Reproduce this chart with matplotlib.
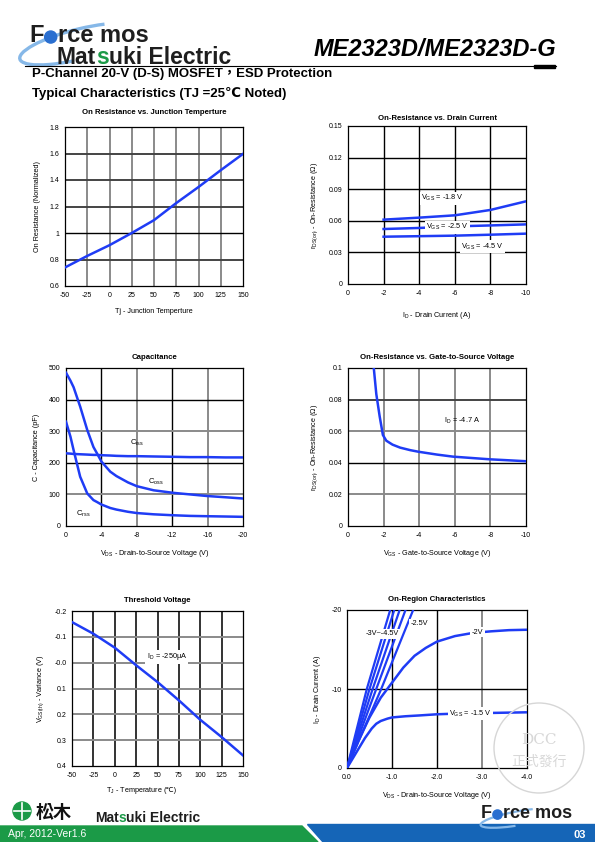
import matplotlib
matplotlib.use('Agg')
import matplotlib.pyplot as plt
from matplotlib.patches import Circle, Polygon, Rectangle, Arc

plt.rcParams['font.family'] = ['Liberation Sans', 'DejaVu Sans', 'Noto Sans CJK TC']
plt.rcParams['mathtext.default'] = 'regular'
plt.rcParams['axes.unicode_minus'] = False

BLUE = '#1f3cf5'

# ---- data ----
# On resistance vs junction temperature
tj = [-50, -25, 0, 25, 50, 75, 100, 125, 150]
ron_norm = [0.74, 0.827, 0.908, 1.0, 1.097, 1.226, 1.347, 1.474, 1.597]

# On resistance vs drain current
id_a = [-2, -4, -6, -8, -10]
ron_18 = [0.0611, 0.063, 0.0652, 0.0703, 0.0785]
ron_25 = [0.0522, 0.0532, 0.0547, 0.0556, 0.0566]
ron_45 = [0.0449, 0.0454, 0.0459, 0.0468, 0.0478]

# Capacitance
vds_c = [0, -0.5, -0.86, -1.6, -2.4, -3.1, -3.5, -4, -5, -5.7, -7, -8, -9.9, -12.1, -14, -15.9, -18, -20]
c_iss = [230, 229, 228, 227, 226, 225, 225, 224, 223, 222, 221, 221, 220, 219, 218, 218, 217, 217]
c_oss = [485, 460, 439, 378, 304, 250, 230, 204, 172, 158, 138, 126, 113, 105, 100, 95, 91, 87]
c_rss = [330, 283, 240, 156, 103, 82, 76, 68, 57, 52, 45, 41, 37, 34, 32, 31, 30, 29]

# On resistance vs gate-to-source voltage
vgs = [-1.44, -1.59, -1.78, -1.96, -2.15, -2.5, -2.93, -3.5, -3.96, -5.0, -5.9, -7.0, -7.98, -9.0, -10]
ron_vgs = [0.101, 0.0835, 0.0693, 0.0576, 0.054, 0.0515, 0.0496, 0.048, 0.047, 0.0452, 0.0439, 0.043, 0.0422, 0.0416, 0.041]

# Threshold voltage variance
tj_th = [-50, -25, 0, 25, 50, 75, 100, 125, 150]
vth_var = [-0.157, -0.112, -0.058, 0.010, 0.075, 0.146, 0.221, 0.288, 0.359]

# On-region characteristics
vds_15 = [0, -0.2, -0.4, -0.55, -0.65, -0.75, -0.9, -1.0, -1.3, -1.6, -2.0, -2.5, -3.0, -3.5, -4.0]
id_15 = [0, -1.9, -3.8, -5.0, -5.6, -5.95, -6.25, -6.4, -6.55, -6.65, -6.8, -6.9, -6.95, -7.0, -7.05]
vds_20 = [0, -0.25, -0.5, -0.75, -1.0, -1.25, -1.5, -1.75, -2.0, -2.4, -2.8, -3.2, -3.6, -4.0]
id_20 = [0, -3.4, -6.4, -8.9, -10.8, -12.7, -14.2, -15.2, -16.0, -16.7, -17.1, -17.3, -17.45, -17.5]
steep_vgs = ['-4.5', '-4', '-3.5', '-3', '-2.5']
steep_v10 = [-0.44, -0.50, -0.57, -0.65, -0.76]
steep_v20 = [-0.96, -1.05, -1.17, -1.30, -1.47]

W, H = 595, 842
fig = plt.figure(figsize=(W / 100, H / 100), dpi=100)


def box(l, t, r, b):
    return [l / W, 1 - b / H, (r - l) / W, (b - t) / H]


def style(ax, title, xl, yl, vgrid, hgrid, tpad=6.5):
    ax.set_title(title, fontsize=5.6, fontweight='bold', pad=tpad)
    if xl:
        ax.set_xlabel(xl, fontsize=5.2, labelpad=7)
    ax.set_ylabel(yl, fontsize=5.2, labelpad=6)
    ax.tick_params(length=0, labelsize=5, pad=4)
    for v, c in vgrid:
        ax.axvline(v, color=c, lw=1.0 if c == 'black' else 1.4, zorder=1)
    for v, c in hgrid:
        ax.axhline(v, color=c, lw=1.0 if c == 'black' else 1.4, zorder=1)
    for s in ax.spines.values():
        s.set_linewidth(0.9)


G = '#8a8a8a'
K = 'black'
WB = dict(facecolor='white', edgecolor='none', pad=1)

# 1: on resistance vs junction temp
ax1 = fig.add_axes(box(65, 127, 243, 286))
ax1.plot(tj, ron_norm, color=BLUE, lw=1.8, zorder=3)
ax1.set_xlim(-50, 150)
ax1.set_ylim(0.6, 1.8)
ax1.set_xticks(range(-50, 151, 25))
ax1.set_yticks([0.6, 0.8, 1.0, 1.2, 1.4, 1.6, 1.8])
ax1.set_yticklabels(['0.6', '0.8', '1', '1.2', '1.4', '1.6', '1.8'])
style(ax1, 'On Resistance vs. Junction Temperture', 'Tj - Junction Temperture',
      'On Resistance (Normalized)',
      [(v, G) for v in range(-25, 150, 25)],
      [(0.8, '#444'), (1.0, K), (1.2, '#444'), (1.4, '#444'), (1.6, '#444')], tpad=9.5)

# 2: on resistance vs drain current
ax2 = fig.add_axes(box(348, 126, 526, 284))
ax2.plot(id_a, ron_18, color=BLUE, lw=1.8, zorder=3)
ax2.plot(id_a, ron_25, color=BLUE, lw=1.8, zorder=3)
ax2.plot(id_a, ron_45, color=BLUE, lw=1.8, zorder=3)
ax2.set_xlim(0, -10)
ax2.set_ylim(0, 0.15)
ax2.set_xticks([0, -2, -4, -6, -8, -10])
ax2.set_xticklabels(['0', '-2', '-4', '-6', '-8', '-10'])
ax2.set_yticks([0, 0.03, 0.06, 0.09, 0.12, 0.15])
ax2.set_yticklabels(['0', '0.03', '0.06', '0.09', '0.12', '0.15'])
style(ax2, 'On-Resistance vs. Drain Current', '$I_D$ - Drain Current (A)',
      '$r_{DS(on)}$ - On-Resistance (Ω)',
      [(v, K) for v in [-2, -4, -6, -8]],
      [(v, K) for v in [0.03, 0.06, 0.09, 0.12]], tpad=4)
ax2.xaxis.labelpad = 10
ax2.text(-5.3, 0.0813, '$V_{GS}$ = -1.8 V', fontsize=5.3, ha='center', va='center', bbox=WB, zorder=4)
ax2.text(-5.6, 0.0538, '$V_{GS}$ = -2.5 V', fontsize=5.3, ha='center', va='center', bbox=WB, zorder=4)
ax2.text(-7.55, 0.0354, '$V_{GS}$ = -4.5 V', fontsize=5.3, ha='center', va='center', bbox=WB, zorder=4)

# 3: capacitance
ax3 = fig.add_axes(box(66, 368, 243, 526))
ax3.plot(vds_c, c_iss, color=BLUE, lw=1.8, zorder=3)
ax3.plot(vds_c, c_oss, color=BLUE, lw=1.8, zorder=3)
ax3.plot(vds_c, c_rss, color=BLUE, lw=1.8, zorder=3)
ax3.set_xlim(0, -20)
ax3.set_ylim(0, 500)
ax3.set_xticks([0, -4, -8, -12, -16, -20])
ax3.set_xticklabels(['0', '-4', '-8', '-12', '-16', '-20'])
ax3.set_yticks([0, 100, 200, 300, 400, 500])
style(ax3, 'Capacitance', '$V_{DS}$ - Drain-to-Source Voltage (V)', 'C - Capacitance (pF)',
      [(-4, K), (-8, G), (-12, K), (-16, G)],
      [(100, G), (200, K), (300, G), (400, K)])
ax3.text(-8.0, 262, '$C_{iss}$', fontsize=5.5, ha='center', va='center')
ax3.text(-10.2, 140, '$C_{oss}$', fontsize=5.5, ha='center', va='center')
ax3.text(-2.0, 39, '$C_{rss}$', fontsize=5.5, ha='center', va='center')

# 4: on resistance vs gate-source voltage
ax4 = fig.add_axes(box(348, 368, 526, 526))
ax4.plot(vgs, ron_vgs, color=BLUE, lw=1.8, zorder=3, clip_on=True)
ax4.set_xlim(0, -10)
ax4.set_ylim(0, 0.1)
ax4.set_xticks([0, -2, -4, -6, -8, -10])
ax4.set_xticklabels(['0', '-2', '-4', '-6', '-8', '-10'])
ax4.set_yticks([0, 0.02, 0.04, 0.06, 0.08, 0.1])
ax4.set_yticklabels(['0', '0.02', '0.04', '0.06', '0.08', '0.1'])
style(ax4, 'On-Resistance vs. Gate-to-Source Voltage', '$V_{GS}$ - Gate-to-Source Voltage (V)',
      '$r_{DS(on)}$ - On-Resistance (Ω)',
      [(-2, G), (-4, G), (-6, G), (-8, G)],
      [(0.02, G), (0.04, K), (0.06, G), (0.08, '#444')])
ax4.text(-6.4, 0.0665, '$I_D$ = -4.7 A', fontsize=5.3, ha='center', va='center')

# 5: threshold voltage
ax5 = fig.add_axes(box(72, 611, 243, 766))
ax5.plot(tj_th, vth_var, color=BLUE, lw=1.8, zorder=3)
ax5.set_xlim(-50, 150)
ax5.set_ylim(0.4, -0.2)
ax5.set_xticks(range(-50, 151, 25))
ax5.set_yticks([-0.2, -0.1, 0.0, 0.1, 0.2, 0.3, 0.4])
ax5.set_yticklabels(['-0.2', '-0.1', '-0.0', '0.1', '0.2', '0.3', '0.4'])
style(ax5, 'Threshold Voltage', None, '$V_{GS(th)}$ - Variance (V)',
      [(v, '#333') for v in range(-25, 150, 25)],
      [(v, G) for v in [-0.1, 0.0, 0.1, 0.2, 0.3]])
# x label in two pieces so the ℃ sign comes from a plain-text font
xm = 0.5 + 6 / 171
ax5.text(xm, -0.155, '$T_J$ - Temperature ', fontsize=5.2, ha='right', va='center',
         transform=ax5.transAxes)
ax5.text(xm, -0.155, '(℃)', fontsize=5.2, ha='left', va='center', transform=ax5.transAxes)
ax5.text(61, -0.022, '$I_D$ = -250μA', fontsize=5.3, ha='center', va='center', bbox=WB, zorder=4)

# 6: on-region characteristics
ax6 = fig.add_axes(box(347, 610, 527, 768))
ax6.plot(vds_15, id_15, color=BLUE, lw=1.8, zorder=3)
ax6.plot(vds_20, id_20, color=BLUE, lw=1.8, zorder=3)
for v10, v20 in zip(steep_v10, steep_v20):
    ax6.plot([0, v10, v20], [0, -10, -20], color=BLUE, lw=1.6, zorder=3)
ax6.set_xlim(0, -4)
ax6.set_ylim(0, -20)
ax6.set_xticks([0, -1, -2, -3, -4])
ax6.set_xticklabels(['0.0', '-1.0', '-2.0', '-3.0', '-4.0'])
ax6.set_yticks([0, -10, -20])
ax6.set_yticklabels(['0', '-10', '-20'])
style(ax6, 'On-Region Characteristics', '$V_{DS}$ - Drain-to-Source Voltage (V)',
      '$I_D$ - Drain Current (A)',
      [(-1, K), (-2, K), (-3, G)], [(-10, K)])
ax6.text(-2.75, -6.9, '$V_{GS}$ = -1.5 V', fontsize=5.3, ha='center', va='center', bbox=WB, zorder=4)
ax6.text(-2.9, -17.2, '-2V', fontsize=5.3, ha='center', va='center', bbox=WB, zorder=4)
ax6.text(-0.78, -17.0, '-3V~-4.5V', fontsize=5.3, ha='center', va='center', bbox=WB, zorder=4)
ax6.text(-1.6, -18.3, '-2.5V', fontsize=5.3, ha='center', va='center', bbox=WB, zorder=4)

# ---- page decoration (pixel coordinates) ----
pg = fig.add_axes([0, 0, 1, 1], zorder=10)
pg.set_xlim(0, W)
pg.set_ylim(H, 0)
pg.axis('off')
pg.patch.set_alpha(0)
rend = fig.canvas.get_renderer()


def seq(x, y, parts, size, ball=None):
    # lay text pieces side by side; an 'o' piece becomes a blue ball
    for s, c in parts:
        t = pg.text(x, y, s, fontsize=size, fontweight='bold', color=c, va='center')
        w = t.get_window_extent(renderer=rend).width
        if s == 'o' and ball:
            t.set_visible(False)
            pg.add_patch(Circle((x + w / 2, y + size * 0.12), w * 0.42, color=ball))
        x += w
    return x


DK = '#1e1e1e'
GR = '#1b9a47'
# header logo
pg.add_patch(Arc((80, 44), 124, 30, angle=-14, theta1=125, theta2=335, color='#86b8e8', lw=2.4))
seq(29, 35, [('F', DK), ('o', DK), ('rce mos', DK)], 17, ball='#2a6fd0')
seq(57, 57, [('Mat', DK), ('s', GR), ('uki Electric', DK)], 16.5)
pg.text(556, 50, 'ME2323D/ME2323D-G', fontsize=17, fontweight='bold', style='italic',
        ha='right', va='center')
pg.plot([25, 556], [66, 66], color='black', lw=0.8)
pg.add_patch(Rectangle((534, 64.5), 21, 3, color='black'))
pg.text(32, 74, 'P-Channel 20-V (D-S) MOSFET，ESD Protection', fontsize=9.5, fontweight='bold',
        va='center')
pg.text(32, 94, 'Typical Characteristics (TJ =25℃ Noted)', fontsize=9.5, fontweight='bold',
        va='center')

# watermark
pg.add_patch(Circle((539, 748), 45, fill=False, ec='#d6d6d6', lw=1.0))
pg.text(539, 740, 'DCC', fontsize=11, color='#d8d8d8', ha='center', va='center', family='DejaVu Serif')
pg.text(539, 762, '正式發行', fontsize=10, color='#d8d8d8', ha='center', va='center',
        family='Noto Sans CJK TC')

# footer
pg.add_patch(Polygon([(0, 826), (302, 826), (318, 842), (0, 842)], color=GR))
pg.add_patch(Polygon([(307, 824), (595, 824), (595, 842), (323, 842)], color='#1565b7'))
pg.text(8, 834, 'Apr, 2012-Ver1.6', fontsize=7.5, color='white', va='center')
pg.text(586, 835, '03', fontsize=8, fontweight='bold', color='white', ha='right', va='center')
pg.add_patch(Circle((22, 811), 9, color=GR))
pg.plot([14, 30], [811, 811], color='white', lw=1.2)
pg.plot([22, 22], [803, 819], color='white', lw=1.2)
pg.text(36, 812, '松木', fontsize=13, fontweight='bold', color='#111', va='center',
        family='Noto Sans CJK TC')
seq(95, 818, [('Mat', DK), ('s', GR), ('uki Electric', DK)], 10)
pg.add_patch(Arc((520, 818), 80, 14, angle=-10, theta1=130, theta2=335, color='#86b8e8', lw=1.6))
seq(481, 813, [('F', DK), ('o', DK), ('rce mos', DK)], 13, ball='#2a6fd0')

fig.savefig('out.png', dpi=100)
